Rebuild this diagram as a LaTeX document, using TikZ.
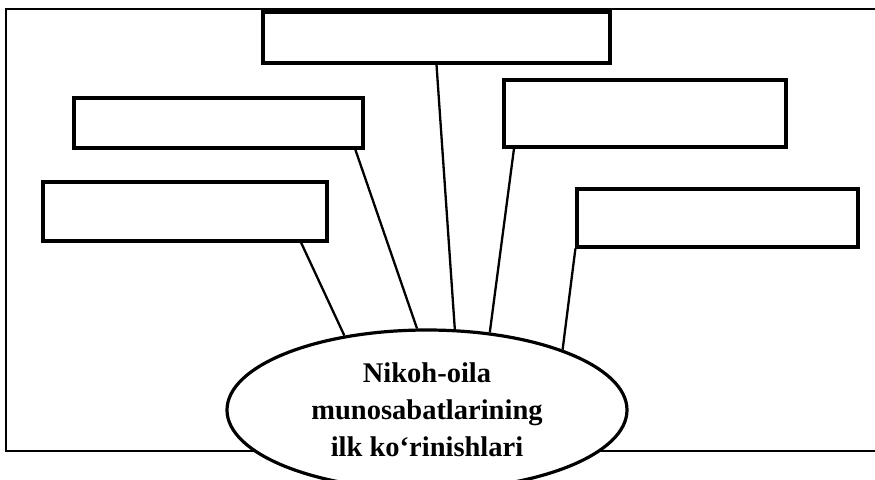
\documentclass[tikz,border=0pt]{standalone}
\usepackage{fontspec}
\setmainfont{Liberation Serif}
\usetikzlibrary{shapes.geometric}

\begin{document}
\begin{tikzpicture}[x=1pt, y=-1pt,
    frame/.style={line width=2.2pt},
    blank/.style={rectangle, draw, line width=3.2pt, inner sep=0pt},
    core/.style={ellipse, draw, fill=white, line width=3.2pt, inner sep=0pt,
                 minimum width=400pt, minimum height=160pt, align=center,
                 font=\fontsize{28.5}{37}\selectfont\bfseries},
    link/.style={line width=2.3pt},
  ]
    \useasboundingbox (0,0) rectangle (875,479);

    % Outer frame (open at the right edge)
    \draw[frame] (880,9) -- (6,9) -- (6,451) -- (880,451);

    % Empty boxes
    \node[blank, minimum width=347pt, minimum height=51pt] (topbox) at (436.5,37.5) {};
    \node[blank, minimum width=289pt, minimum height=50pt] (lubox) at (218.5,123) {};
    \node[blank, minimum width=284pt, minimum height=59pt] (llbox) at (185,211.5) {};
    \node[blank, minimum width=282pt, minimum height=67pt] (rubox) at (645,113.5) {};
    \node[blank, minimum width=281pt, minimum height=58pt] (rlbox) at (717.5,218) {};

    % Central ellipse
    \node[core] (core) at (427,410) {Nikoh-oila\\munosabatlarining\\ilk ko‘rinishlari};

    % Connectors
    \draw[link] (topbox.south) -- (core.71.8);
    \draw[link] (lubox.-11) -- (core.97);
    \draw[link] (llbox.-15.3) -- (core.138.7);
    \draw[link] (rubox.195.6) -- (core.51.3);
    \draw[link] (rlbox.south west) -- (core.24.2);

  \end{tikzpicture}
\end{document}
